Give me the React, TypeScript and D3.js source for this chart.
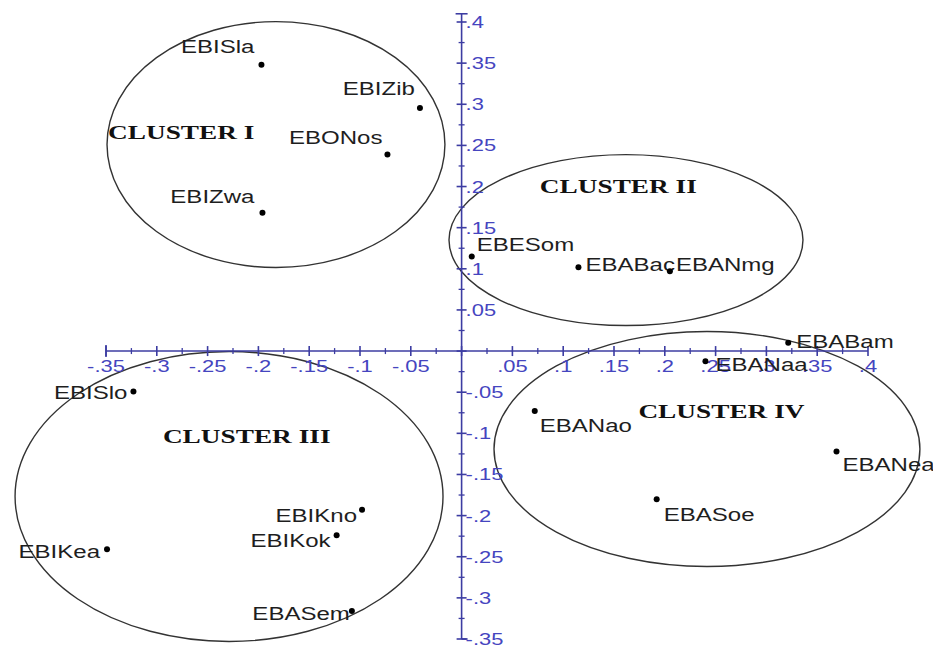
import * as d3 from "d3";

// axis extents and ticks
const X_TICKS = [-0.35, -0.3, -0.25, -0.2, -0.15, -0.1, -0.05, 0, 0.05, 0.1, 0.15, 0.2, 0.25, 0.3, 0.35, 0.4];
const Y_TICKS = [-0.35, -0.3, -0.25, -0.2, -0.15, -0.1, -0.05, 0, 0.05, 0.1, 0.15, 0.2, 0.25, 0.3, 0.35, 0.4];

// plotted samples
const NAMES = ["EBISla", "EBIZib", "EBONos", "EBIZwa", "EBESom", "EBABac", "EBANmg", "EBABam", "EBANaa", "EBANao", "EBANea", "EBASoe", "EBISlo", "EBIKea", "EBIKno", "EBIKok", "EBASem"];
const XS = [-0.197, -0.041, -0.073, -0.196, 0.01, 0.115, 0.205, 0.3215, 0.24, 0.072, 0.369, 0.192, -0.323, -0.349, -0.098, -0.123, -0.108];
const YS = [0.348, 0.2955, 0.239, 0.168, 0.115, 0.102, 0.097, 0.01, -0.0124, -0.073, -0.122, -0.18, -0.049, -0.241, -0.193, -0.224, -0.316];

// clusters (ellipses in data units)
const CLUSTERS = ["CLUSTER I", "CLUSTER II", "CLUSTER III", "CLUSTER IV"];
const CLUSTER_CX = [-0.1827, 0.1618, -0.2289, 0.2415];
const CLUSTER_CY = [0.251, 0.1349, -0.1768, -0.1191];
const CLUSTER_RX = [0.1663, 0.1742, 0.2106, 0.2096];
const CLUSTER_RY = [0.1495, 0.1039, 0.1762, 0.1428];
const CLUSTER_LABEL_X = [-0.348, 0.077, -0.294, 0.174];
const CLUSTER_LABEL_Y = [0.258, 0.192, -0.112, -0.081];

// label placement relative to the dot (px)
const LABEL_POS: Record<string, [string, number, number]> = {
  EBISla: ["end", -7, -12],
  EBIZib: ["end", -5, -13],
  EBONos: ["end", -5, -10],
  EBIZwa: ["end", -8, -10],
  EBESom: ["start", 5, -5],
  EBABac: ["start", 7, 4],
  EBANmg: ["start", 6, 0],
  EBABam: ["start", 8, 5],
  EBANaa: ["start", 10, 10],
  EBANao: ["start", 5, 21],
  EBANea: ["start", 6, 20],
  EBASoe: ["start", 7, 22],
  EBISlo: ["end", -6, 8],
  EBIKea: ["end", -7, 9],
  EBIKno: ["end", -5, 12],
  EBIKok: ["end", -6, 12],
  EBASem: ["end", -2, 9],
};

const W = 933;
const H = 647;
const AXIS = "#3c3ca2";
const TICK_TEXT = "#4545bf";
const SANS = "'Liberation Sans', Arial, sans-serif";
const SERIF = "'Liberation Serif', 'Times New Roman', serif";
const STRETCH = 1.3;

function fmt(v: number): string {
  const s = String(Math.abs(v)).replace(/^0/, "");
  return (v < 0 ? "-" : "") + s;
}

export default function App() {
  const x = d3.scaleLinear().domain([-0.35, 0.4]).range([106, 868]);
  const y = d3.scaleLinear().domain([-0.35, 0.4]).range([639, 22]);
  const x0 = x(0);
  const y0 = y(0);

  const minorX = d3.pairs(X_TICKS).map(([a, b]) => (a + b) / 2);
  const minorY = d3.pairs(Y_TICKS).map(([a, b]) => (a + b) / 2);
  const yTop = y(0.41);

  return (
    <svg
      width={W}
      height={H}
      style={{ position: "absolute", left: 0, top: 0, background: "#fff" }}
    >
      {/* cluster ellipses */}
      {CLUSTERS.map((c, i) => (
        <ellipse
          key={c}
          cx={x(CLUSTER_CX[i])}
          cy={y(CLUSTER_CY[i])}
          rx={x(CLUSTER_RX[i]) - x(0)}
          ry={y(0) - y(CLUSTER_RY[i])}
          fill="none"
          stroke="#333"
          strokeWidth={1.4}
        />
      ))}

      {/* x axis */}
      <g stroke={AXIS} strokeWidth={1.6}>
        <line x1={x(-0.35)} x2={x(0.4)} y1={y0} y2={y0} />
        <line x1={x(-0.35)} x2={x(-0.35)} y1={y0 - 6} y2={y0 + 6} />
        {X_TICKS.map((t) => (
          <line key={"xt" + t} x1={x(t)} x2={x(t)} y1={y0 - 5} y2={y0 + 5} />
        ))}
        {minorX.map((t) => (
          <line key={"xm" + t} x1={x(t)} x2={x(t)} y1={y0 - 3} y2={y0 + 3} strokeWidth={1.3} />
        ))}
      </g>
      {X_TICKS.filter((t) => t !== 0).map((t) => (
        <text
          key={"xl" + t}
          transform={`translate(${x(t)},${y0 + 21}) scale(${STRETCH + 0.03},1)`}
          textAnchor="middle"
          fontFamily={SANS}
          fontSize={16.5}
          fill={TICK_TEXT}
        >
          {fmt(t)}
        </text>
      ))}

      {/* y axis */}
      <g stroke={AXIS} strokeWidth={1.6}>
        <line x1={x0} x2={x0} y1={y(-0.35)} y2={yTop} />
        <line x1={x0 - 6} x2={x0 + 6} y1={yTop} y2={yTop} />
        <line x1={x0} x2={x0 + 6} y1={y(-0.35)} y2={y(-0.35)} />
        {Y_TICKS.map((t) => (
          <line key={"yt" + t} x1={x0 - 5} x2={x0 + 5} y1={y(t)} y2={y(t)} />
        ))}
        {minorY.map((t) => (
          <line key={"ym" + t} x1={x0 - 3} x2={x0 + 3} y1={y(t)} y2={y(t)} strokeWidth={1.3} />
        ))}
      </g>
      {Y_TICKS.filter((t) => t !== 0).map((t) => (
        <text
          key={"yl" + t}
          transform={`translate(${x0 + 4},${y(t) + 6}) scale(${STRETCH + 0.03},1)`}
          fontFamily={SANS}
          fontSize={16.5}
          fill={TICK_TEXT}
        >
          {fmt(t)}
        </text>
      ))}

      {/* cluster names */}
      {CLUSTERS.map((c, i) => (
        <text
          key={"cl" + c}
          transform={`translate(${x(CLUSTER_LABEL_X[i])},${y(CLUSTER_LABEL_Y[i])}) scale(1.4,1)`}
          fontFamily={SERIF}
          fontWeight="bold"
          fontSize={19.5}
          fill="#111"
        >
          {c}
        </text>
      ))}

      {/* points */}
      {NAMES.map((n, i) => {
        const [anchor, dx, dy] = LABEL_POS[n];
        const px = x(XS[i]);
        const py = y(YS[i]);
        return (
          <g key={n}>
            <circle cx={px} cy={py} r={3} fill="#000" />
            <text
              transform={`translate(${px + dx},${py + dy}) scale(${STRETCH},1)`}
              textAnchor={anchor}
              fontFamily={SANS}
              fontSize={18.5}
              fill="#1e1e1e"
            >
              {n}
            </text>
          </g>
        );
      })}
    </svg>
  );
}
